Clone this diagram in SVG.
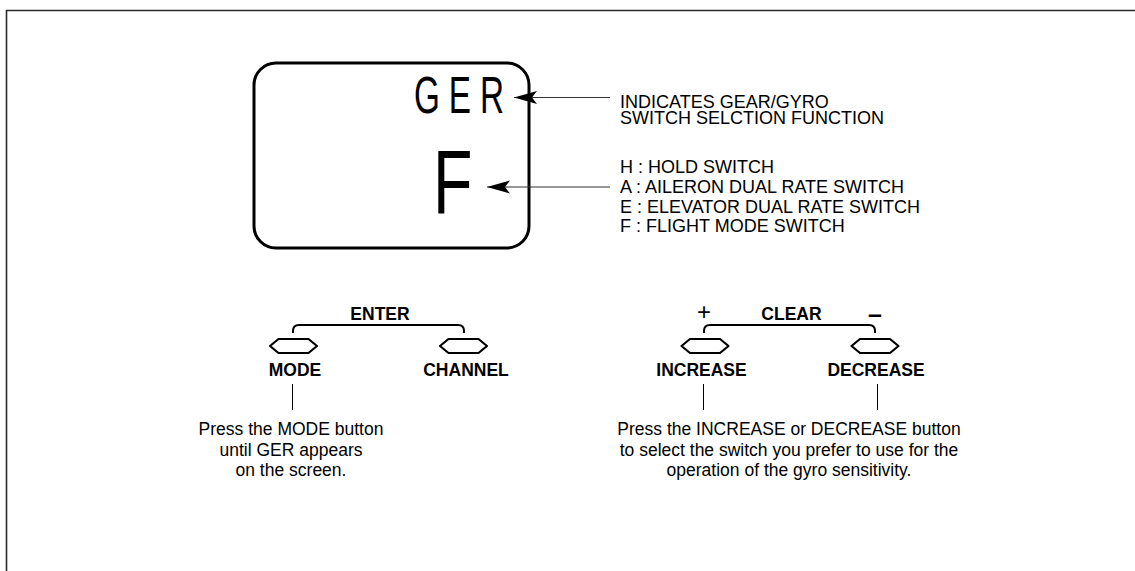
<svg xmlns="http://www.w3.org/2000/svg" width="1135" height="571" viewBox="0 0 1135 571">
<style>
  text { font-family: "Liberation Sans", Arial, sans-serif; fill: #000; }
  .ann { font-size: 18px; }
  .body { font-size: 17.5px; text-anchor: middle; }
  .lbl { font-size: 17.5px; font-weight: bold; text-anchor: middle; }
  .frame { fill: none; stroke: #2a2a2a; stroke-width: 1.6; }
  .screen { fill: none; stroke: #000; stroke-width: 3; }
  .lead { fill: none; stroke: #333; stroke-width: 1.2; }
  .brk { fill: none; stroke: #000; stroke-width: 2; stroke-linejoin: round; }
  .btn { fill: #fff; stroke: #000; stroke-width: 2.2; stroke-linejoin: round; }
  .tick { fill: none; stroke: #000; stroke-width: 1; }
</style>
<defs>
  <marker id="arr" viewBox="0 0 24 14" refX="23" refY="7" markerWidth="24" markerHeight="14" markerUnits="userSpaceOnUse" orient="auto">
    <path d="M23,7 L0,0.5 L5,7 L0,13.5 Z" fill="#000"/>
  </marker>
  <path id="button" d="M-23.5,0 L-15,-7 L15,-7 L23.5,0 L15,7 L-15,7 Z"/>
</defs>

<path class="frame" d="M6.5,571 L6.5,10.5 L1135,10.5"/>

<g id="screen">
  <rect class="screen" x="254" y="63" width="275" height="185" rx="22" ry="22"/>
  <text transform="translate(414,113) scale(0.64,1)" font-size="52" letter-spacing="14">GER</text>
  <text transform="translate(433,213) scale(0.71,1)" font-size="91">F</text>
</g>

<g id="connectors">
  <line class="lead" x1="610" y1="97.5" x2="514" y2="97.5" marker-end="url(#arr)"/>
  <line class="lead" x1="610" y1="187" x2="487" y2="187" marker-end="url(#arr)"/>
  <line class="tick" x1="292.5" y1="384" x2="292.5" y2="410"/>
  <line class="tick" x1="703.5" y1="384" x2="703.5" y2="410"/>
  <line class="tick" x1="877.5" y1="384" x2="877.5" y2="410"/>
  <path class="brk" d="M293,333 L293,331 Q293,325 299,325 L458,325 Q464,325 464,331 L464,333"/>
  <path class="brk" d="M704,333 L704,331 Q704,325 710,325 L869,325 Q875,325 875,331 L875,333"/>
</g>

<g id="annotation-ger">
  <text class="ann" x="620" y="108">INDICATES GEAR/GYRO</text>
  <text class="ann" x="620" y="124">SWITCH SELCTION FUNCTION</text>
</g>

<g id="annotation-switches">
  <text class="ann" x="620" y="173">H : HOLD SWITCH</text>
  <text class="ann" x="620" y="193">A : AILERON DUAL RATE SWITCH</text>
  <text class="ann" x="620" y="212.5">E : ELEVATOR DUAL RATE SWITCH</text>
  <text class="ann" x="620" y="232">F : FLIGHT MODE SWITCH</text>
</g>

<g id="enter-group">
  <text class="lbl" x="380" y="320">ENTER</text>
</g>

<g id="mode-button">
  <use href="#button" class="btn" x="293.5" y="346"/>
  <text class="lbl" x="295" y="376">MODE</text>
</g>

<g id="channel-button">
  <use href="#button" class="btn" x="463.5" y="346"/>
  <text class="lbl" x="466" y="376">CHANNEL</text>
</g>

<g id="clear-group">
  <text x="704" y="320" font-size="24" text-anchor="middle">+</text>
  <text class="lbl" x="791.5" y="320">CLEAR</text>
  <text x="875" y="323" font-size="25" font-weight="bold" text-anchor="middle">–</text>
</g>

<g id="increase-button">
  <use href="#button" class="btn" x="705" y="346"/>
  <text class="lbl" x="701.5" y="376">INCREASE</text>
</g>

<g id="decrease-button">
  <use href="#button" class="btn" x="875" y="346"/>
  <text class="lbl" x="876" y="376">DECREASE</text>
</g>

<g id="mode-note">
  <text class="body" x="291" y="435">Press the MODE button</text>
  <text class="body" x="291" y="455.5">until GER appears</text>
  <text class="body" x="291" y="476">on the screen.</text>
</g>

<g id="incdec-note">
  <text class="body" x="789" y="435">Press the INCREASE or DECREASE button</text>
  <text class="body" x="789" y="455.5">to select the switch you prefer to use for the</text>
  <text class="body" x="789" y="476">operation of the gyro sensitivity.</text>
</g>
</svg>
